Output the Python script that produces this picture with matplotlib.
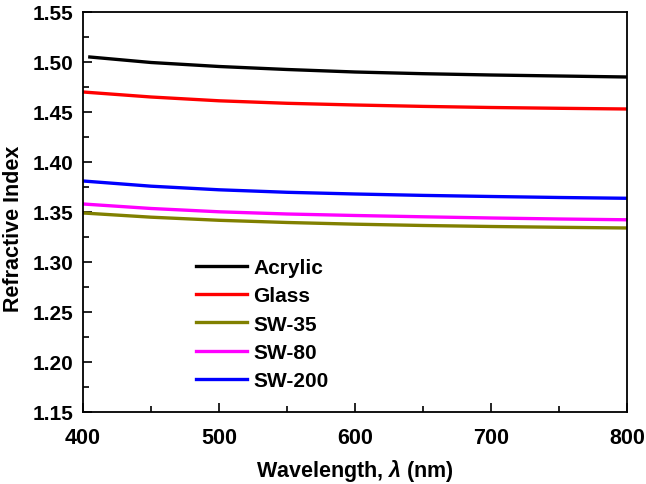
import numpy as np
import matplotlib
matplotlib.use('Agg')
import matplotlib.pyplot as plt
from matplotlib.ticker import MultipleLocator, FormatStrFormatter

# refractive index, 50 nm steps
wavelength = [400, 450, 500, 550, 600, 650, 700, 750, 800]
wavelength_acrylic = [405, 450, 500, 550, 600, 650, 700, 750, 800]
acrylic = [1.505, 1.4995, 1.4955, 1.4925, 1.4900, 1.4883, 1.4870, 1.4860, 1.4850]
glass = [1.470, 1.4650, 1.4612, 1.4587, 1.4570, 1.4556, 1.4545, 1.4537, 1.4530]
sw35 = [1.349, 1.3448, 1.3417, 1.3395, 1.3378, 1.3365, 1.3355, 1.3347, 1.3340]
sw80 = [1.358, 1.3535, 1.3502, 1.3480, 1.3465, 1.3452, 1.3440, 1.3430, 1.3422]
sw200 = [1.381, 1.3758, 1.3722, 1.3697, 1.3680, 1.3666, 1.3655, 1.3645, 1.3637]

plt.rcParams['font.family'] = ['Liberation Sans', 'DejaVu Sans']
plt.rcParams['font.weight'] = 'bold'
plt.rcParams['mathtext.fontset'] = 'custom'
plt.rcParams['mathtext.it'] = 'Liberation Sans:italic:bold'
plt.rcParams['mathtext.rm'] = 'Liberation Sans:bold'

fig = plt.figure(figsize=(6.46, 4.85), dpi=100)
ax = fig.add_axes([0.1285, 0.1485, 0.842, 0.8247])

lw = 2.4
ax.plot(wavelength_acrylic, acrylic, color='black', lw=lw, label='Acrylic')
ax.plot(wavelength, glass, color='#ff0000', lw=lw, label='Glass')
ax.plot(wavelength, sw35, color='#808000', lw=lw, label='SW-35')
ax.plot(wavelength, sw80, color='#ff00ff', lw=lw, label='SW-80')
ax.plot(wavelength, sw200, color='#0000ff', lw=lw, label='SW-200')

ax.set_xlim(400, 800)
ax.set_ylim(1.15, 1.55)
ax.xaxis.set_major_locator(MultipleLocator(100))
ax.xaxis.set_minor_locator(MultipleLocator(50))
ax.yaxis.set_major_locator(MultipleLocator(0.05))
ax.yaxis.set_minor_locator(MultipleLocator(0.025))
ax.yaxis.set_major_formatter(FormatStrFormatter('%.2f'))

ax.tick_params(which='both', direction='in', width=1.2, top=False, right=False)
ax.tick_params(which='major', length=6.5)
ax.tick_params(which='minor', length=4.5)
ax.tick_params(axis='x', which='major', labelsize=15.5, pad=11)
ax.tick_params(axis='y', which='major', labelsize=15, pad=7)
for s in ax.spines.values():
    s.set_linewidth(1.3)

ax.set_xlabel(r'Wavelength, $\mathit{\lambda}$ (nm)', fontsize=15.5, fontweight='bold', labelpad=6)
ax.set_ylabel('Refractive Index', fontsize=15.5, fontweight='bold')
ax.yaxis.set_label_coords(-0.108, 0.46)

leg = ax.legend(loc='upper left', bbox_to_anchor=(0.1925, 0.405), frameon=False,
                fontsize=15, handlelength=2.45, handletextpad=0.3, labelspacing=0.44,
                borderaxespad=0)

fig.savefig('out.png', dpi=100)
